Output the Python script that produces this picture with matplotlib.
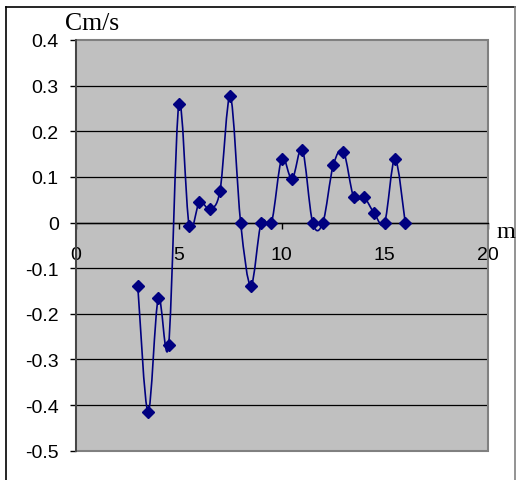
import matplotlib
matplotlib.use("Agg")
import matplotlib.pyplot as plt
from matplotlib.path import Path
from matplotlib.patches import PathPatch, Rectangle
from matplotlib.lines import Line2D

# data
x_m = [3, 3.5, 4, 4.5, 5, 5.5, 6, 6.5, 7, 7.5, 8, 8.5, 9, 9.5,
       10, 10.5, 11, 11.5, 12, 12.5, 13, 13.5, 14, 14.5, 15, 15.5, 16]
speed = [-0.138, -0.415, -0.165, -0.268, 0.26, -0.007, 0.045, 0.03, 0.07, 0.277,
         0.0, -0.138, 0.0, 0.0, 0.14, 0.095, 0.16, 0.0, 0.0, 0.125,
         0.155, 0.055, 0.055, 0.02, 0.0, 0.14, 0.0]
xticks = [0, 5, 10, 15, 20]
yticks = [0.4, 0.3, 0.2, 0.1, 0, -0.1, -0.2, -0.3, -0.4, -0.5]
ytick_labels = ["0.4", "0.3", "0.2", "0.1", "0", "-0.1", "-0.2", "-0.3", "-0.4", "-0.5"]
y_label = "Cm/s"
x_label = "m"

NAVY = "#000080"
GREY_BG = "#C0C0C0"
EDGE = "#808080"


def smooth_path(xs, ys):
    # Excel-style smoothed line: Catmull-Rom segments as cubic Beziers
    verts = [(xs[0], ys[0])]
    codes = [Path.MOVETO]
    n = len(xs)
    for i in range(n - 1):
        x0, y0 = (xs[i - 1], ys[i - 1]) if i > 0 else (xs[i], ys[i])
        x1, y1 = xs[i], ys[i]
        x2, y2 = xs[i + 1], ys[i + 1]
        x3, y3 = (xs[i + 2], ys[i + 2]) if i + 2 < n else (x2, y2)
        c1 = (x1 + (x2 - x0) / 6, y1 + (y2 - y0) / 6)
        c2 = (x2 - (x3 - x1) / 6, y2 - (y3 - y1) / 6)
        verts += [c1, c2, (x2, y2)]
        codes += [Path.CURVE4] * 3
    return Path(verts, codes)


plt.rcParams["axes.unicode_minus"] = False
plt.rcParams["font.family"] = ["Liberation Sans", "DejaVu Sans"]

fig = plt.figure(figsize=(5.16, 4.81), dpi=100)
ax = fig.add_axes([0.1473, 0.0609, 0.7975, 0.8539])
ax.set_facecolor(GREY_BG)
ax.set_xlim(0, 20)
ax.set_ylim(-0.5, 0.4)

# horizontal gridlines
for yv in yticks[1:-1]:
    ax.axhline(yv, color="black", lw=0.9, zorder=1)

# plot area border
ax.add_patch(Rectangle((0, 0), 1, 1, transform=ax.transAxes, fill=False,
                       edgecolor=EDGE, lw=1.5, zorder=2, clip_on=False))

ax.add_patch(PathPatch(smooth_path(x_m, speed), facecolor="none",
                       edgecolor=NAVY, lw=1.2, zorder=3))
ax.plot(x_m, speed, linestyle="none", marker="D", markersize=6.3,
        color=NAVY, zorder=4)

for side in ["top", "right"]:
    ax.spines[side].set_visible(False)
ax.spines["left"].set_color("#404040")
ax.spines["left"].set_linewidth(1.3)
ax.spines["bottom"].set_position(("data", 0))
ax.spines["bottom"].set_color("black")
ax.spines["bottom"].set_linewidth(1.0)
ax.spines["left"].set_zorder(5)

ax.set_xticks(xticks)
ax.set_xticklabels([str(v) for v in xticks])
ax.set_yticks(yticks)
ax.set_yticklabels(ytick_labels)
ax.tick_params(axis="x", direction="out", length=4, width=1, pad=13,
               labelsize=14, colors="black")
ax.tick_params(axis="y", direction="out", length=4.5, width=1, pad=8,
               labelsize=14, colors="black")

fig.text(65 / 516, (481 - 30) / 481, y_label, family="Liberation Serif",
         fontsize=18.5, va="baseline", ha="left")
fig.text(496.5 / 516, (481 - 238) / 481, x_label, family="Liberation Serif",
         fontsize=17.5, va="baseline", ha="left")

# chart area border
fig.add_artist(Line2D([5.5 / 516, 5.5 / 516], [0, (481 - 8) / 481],
                      transform=fig.transFigure, color="black", lw=1.2))
fig.add_artist(Line2D([5.5 / 516, 515.3 / 516], [(481 - 8) / 481, (481 - 8) / 481],
                      transform=fig.transFigure, color="black", lw=1.2))
fig.add_artist(Line2D([515.3 / 516, 515.3 / 516], [0, (481 - 8) / 481],
                      transform=fig.transFigure, color=EDGE, lw=1.2))

fig.savefig("out.png", dpi=100)
plt.close(fig)
